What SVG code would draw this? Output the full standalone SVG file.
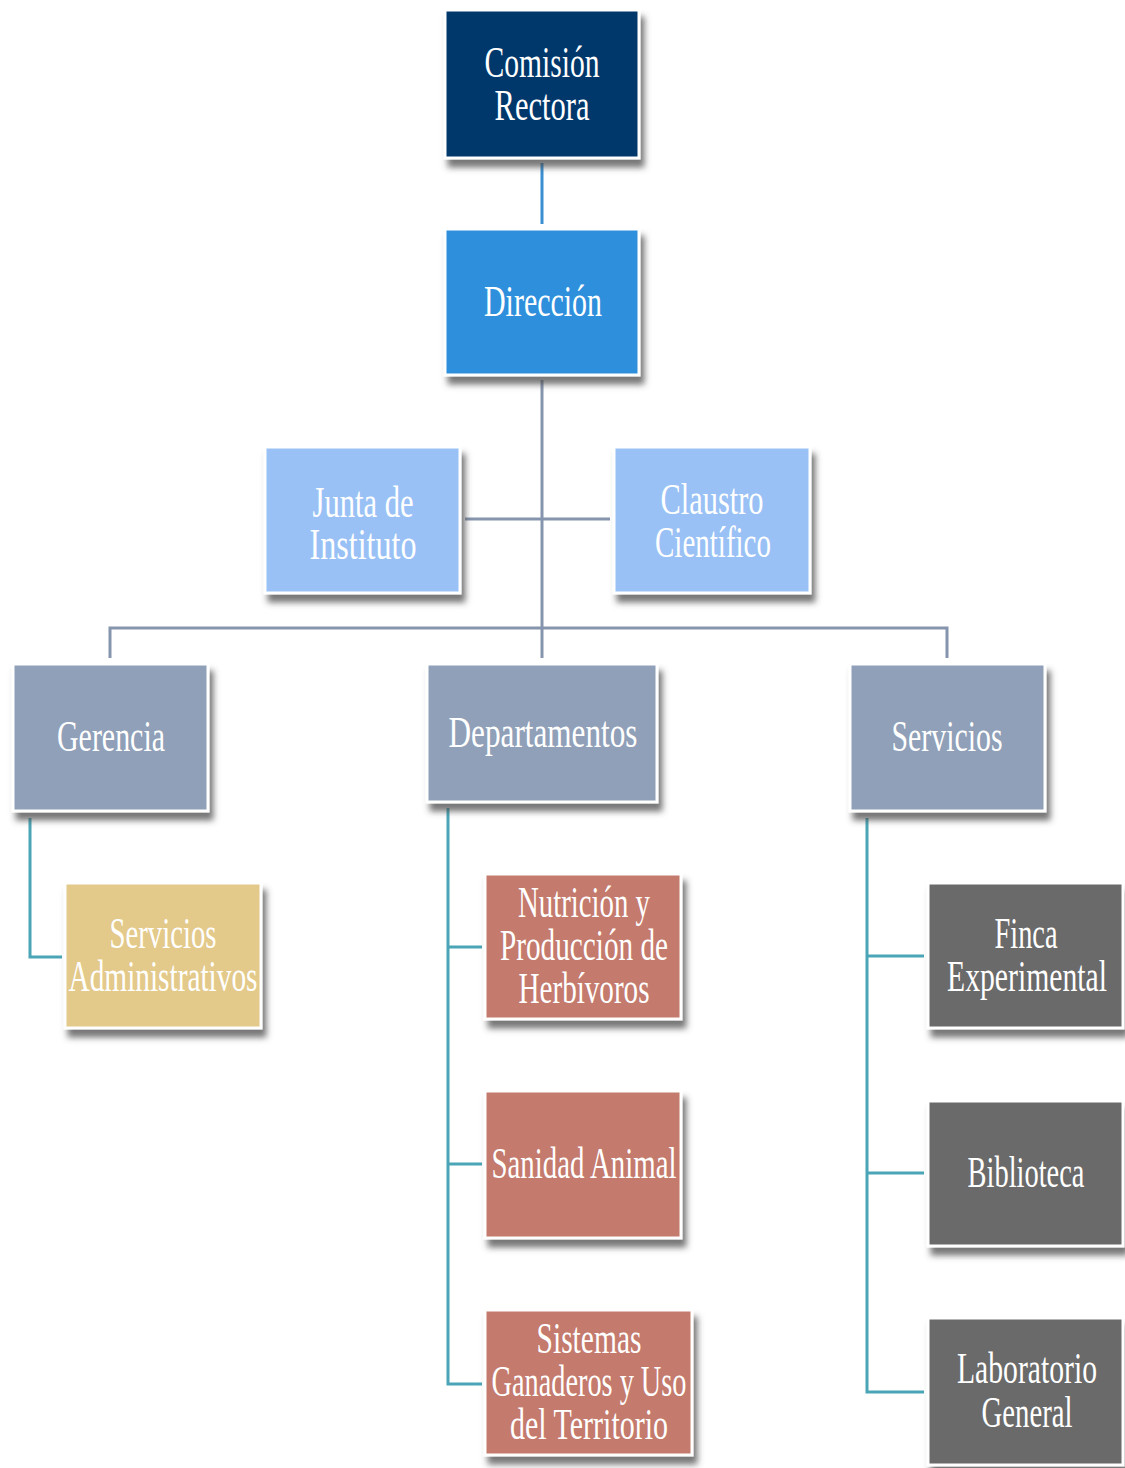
<svg xmlns="http://www.w3.org/2000/svg" width="1125" height="1468" viewBox="0 0 1125 1468">
<defs>
<filter id="sh" x="-10%" y="-10%" width="130%" height="140%">
<feDropShadow dx="4" dy="8" stdDeviation="3" flood-color="#4a4a4a" flood-opacity="0.75"/>
</filter>
<style>
.box{stroke:#ffffff;stroke-width:3;filter:url(#sh);}
.t{font-family:"Liberation Serif","Times New Roman",serif;font-size:44px;fill:#ffffff;text-anchor:middle;}
.c1{fill:none;stroke:#3a8fd2;stroke-width:3;}
.c2{fill:none;stroke:#8595ad;stroke-width:3;}
.c3{fill:none;stroke:#4aa6b6;stroke-width:3;}
</style>
</defs>
<rect width="1125" height="1468" fill="#ffffff"/>
<g id="connectors">
<line class="c1" x1="542" y1="163" x2="542" y2="224"/>
<line class="c2" x1="542" y1="380" x2="542" y2="658"/>
<line class="c2" x1="465" y1="519" x2="610" y2="519"/>
<polyline class="c2" points="110,658 110,628 947,628 947,658"/>
<polyline class="c3" points="30,818 30,957 62,957"/>
<polyline class="c3" points="448,808 448,1384 482,1384"/>
<line class="c3" x1="448" y1="947" x2="482" y2="947"/>
<line class="c3" x1="448" y1="1164" x2="482" y2="1164"/>
<polyline class="c3" points="867,818 867,1392 924,1392"/>
<line class="c3" x1="867" y1="956" x2="924" y2="956"/>
<line class="c3" x1="867" y1="1173" x2="924" y2="1173"/>
</g>
<g id="comision">
<rect class="box" x="445" y="10" width="194" height="148" fill="#05376c"/>
<text class="t" x="542" y="77" textLength="115" lengthAdjust="spacingAndGlyphs">Comisión</text>
<text class="t" x="542" y="120" textLength="95" lengthAdjust="spacingAndGlyphs">Rectora</text>
</g>
<g id="direccion">
<rect class="box" x="445" y="229" width="194" height="146" fill="#2f8fdc"/>
<text class="t" x="543" y="316" textLength="118" lengthAdjust="spacingAndGlyphs">Dirección</text>
</g>
<g id="junta">
<rect class="box" x="265" y="447" width="195" height="146" fill="#99c1f5"/>
<text class="t" x="363" y="517" textLength="101" lengthAdjust="spacingAndGlyphs">Junta de</text>
<text class="t" x="363" y="559" textLength="107" lengthAdjust="spacingAndGlyphs">Instituto</text>
</g>
<g id="claustro">
<rect class="box" x="614" y="447" width="196" height="146" fill="#99c1f5"/>
<text class="t" x="712" y="514" textLength="103" lengthAdjust="spacingAndGlyphs">Claustro</text>
<text class="t" x="713" y="557" textLength="116" lengthAdjust="spacingAndGlyphs">Científico</text>
</g>
<g id="gerencia">
<rect class="box" x="13" y="664" width="195" height="147" fill="#8fa0b8"/>
<text class="t" x="111" y="751" textLength="108" lengthAdjust="spacingAndGlyphs">Gerencia</text>
</g>
<g id="departamentos">
<rect class="box" x="427" y="664" width="230" height="138" fill="#8fa0b8"/>
<text class="t" x="543" y="747" textLength="189" lengthAdjust="spacingAndGlyphs">Departamentos</text>
</g>
<g id="servicios">
<rect class="box" x="850" y="664" width="195" height="147" fill="#8fa0b8"/>
<text class="t" x="947" y="751" textLength="111" lengthAdjust="spacingAndGlyphs">Servicios</text>
</g>
<g id="serv-admin">
<rect class="box" x="65" y="883" width="196" height="145" fill="#e3c98a"/>
<text class="t" x="163" y="948" textLength="107" lengthAdjust="spacingAndGlyphs">Servicios</text>
<text class="t" x="163" y="991" textLength="189" lengthAdjust="spacingAndGlyphs">Administrativos</text>
</g>
<g id="nutricion">
<rect class="box" x="485" y="874" width="196" height="145" fill="#c47a6c"/>
<text class="t" x="584" y="917" textLength="132" lengthAdjust="spacingAndGlyphs">Nutrición y</text>
<text class="t" x="584" y="960" textLength="168" lengthAdjust="spacingAndGlyphs">Producción de</text>
<text class="t" x="584" y="1003" textLength="131" lengthAdjust="spacingAndGlyphs">Herbívoros</text>
</g>
<g id="sanidad">
<rect class="box" x="485" y="1091" width="196" height="147" fill="#c47a6c"/>
<text class="t" x="584" y="1178" textLength="185" lengthAdjust="spacingAndGlyphs">Sanidad Animal</text>
</g>
<g id="sistemas">
<rect class="box" x="485" y="1310" width="207" height="145" fill="#c47a6c"/>
<text class="t" x="589" y="1353" textLength="105" lengthAdjust="spacingAndGlyphs">Sistemas</text>
<text class="t" x="589" y="1396" textLength="195" lengthAdjust="spacingAndGlyphs">Ganaderos y Uso</text>
<text class="t" x="589" y="1439" textLength="158" lengthAdjust="spacingAndGlyphs">del Territorio</text>
</g>
<g id="finca">
<rect class="box" x="928" y="883" width="195" height="145" fill="#6b6b6b"/>
<text class="t" x="1026" y="948" textLength="63" lengthAdjust="spacingAndGlyphs">Finca</text>
<text class="t" x="1027" y="991" textLength="160" lengthAdjust="spacingAndGlyphs">Experimental</text>
</g>
<g id="biblioteca">
<rect class="box" x="928" y="1101" width="195" height="145" fill="#6b6b6b"/>
<text class="t" x="1026" y="1187" textLength="117" lengthAdjust="spacingAndGlyphs">Biblioteca</text>
</g>
<g id="laboratorio">
<rect class="box" x="928" y="1318" width="195" height="147" fill="#6b6b6b"/>
<text class="t" x="1027" y="1383" textLength="140" lengthAdjust="spacingAndGlyphs">Laboratorio</text>
<text class="t" x="1027" y="1427" textLength="91" lengthAdjust="spacingAndGlyphs">General</text>
</g>
</svg>
